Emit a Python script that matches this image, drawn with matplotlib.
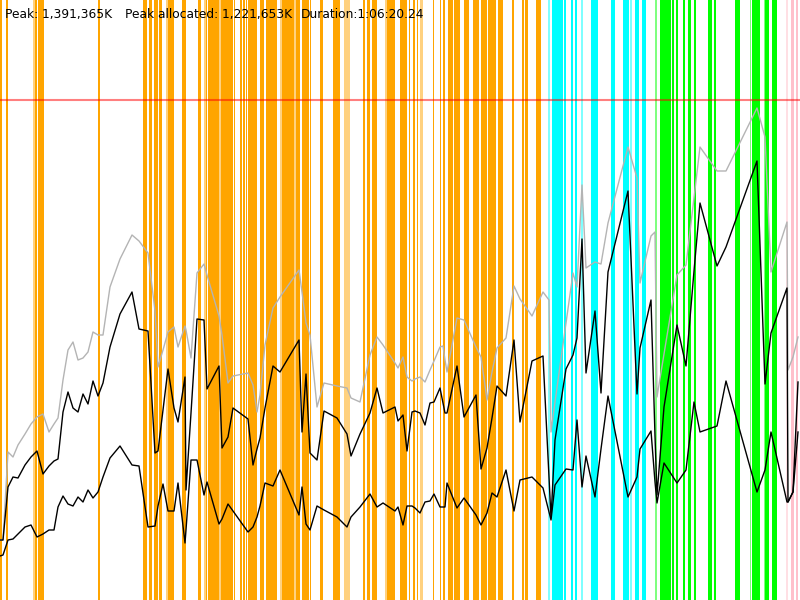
import numpy as np
import matplotlib.pyplot as plt

# sample times (chart x units) and the three memory traces (chart height units)
t = [0, 3, 8, 13, 18, 25, 31, 37, 43, 49, 54, 58, 63, 68, 73, 78, 83, 88, 93, 98,
     103, 110, 120, 132, 139, 148, 155, 158, 163, 168, 174, 178, 185, 186, 191, 197,
     204, 207, 219, 222, 228, 233, 248, 253, 257, 260, 265, 273, 280, 299, 302, 306,
     310, 317, 324, 337, 347, 351, 360, 370, 377, 383, 395, 398, 403, 407, 412, 415,
     420, 425, 430, 434, 440, 443, 445, 447, 457, 464, 476, 481, 487, 492, 497, 506,
     514, 520, 532, 543, 549, 551, 555, 566, 573, 577, 582, 586, 595, 601, 608, 628,
     637, 640, 651, 655, 657, 664, 677, 686, 694, 700, 717, 726, 757, 765, 771, 787,
     788, 793, 798]

peak_mem = [60, 60, 148, 143, 155, 166, 176, 183, 186, 168, 176, 182, 220, 250, 258, 240,
            242, 248, 268, 265, 265, 313, 341, 365, 359, 347, 289, 233, 250, 268, 273, 253,
            274, 270, 242, 327, 336, 325, 284, 265, 217, 224, 227, 215, 188, 205, 255, 292,
            303, 330, 308, 277, 265, 193, 217, 214, 212, 202, 198, 245, 263, 255, 237, 232,
            243, 223, 219, 221, 223, 218, 230, 239, 253, 254, 240, 228, 282, 280, 253, 243,
            200, 228, 252, 262, 314, 301, 284, 308, 300, 168, 198, 277, 327, 313, 415, 332,
            338, 336, 377, 453, 422, 317, 364, 368, 203, 246, 325, 335, 402, 453, 429, 429,
            492, 463, 328, 378, 230, 243, 263]

used_mem = [60, 60, 113, 123, 122, 135, 143, 149, 126, 134, 139, 141, 188, 208, 192, 188,
            206, 196, 219, 204, 217, 253, 286, 308, 271, 269, 147, 149, 190, 231, 192, 178,
            223, 110, 187, 281, 280, 211, 234, 152, 163, 192, 181, 135, 151, 162, 192, 234,
            228, 260, 168, 226, 147, 140, 189, 182, 166, 144, 166, 187, 212, 187, 193, 179,
            185, 149, 188, 189, 187, 175, 197, 198, 212, 197, 187, 187, 234, 183, 205, 131,
            152, 182, 214, 204, 260, 178, 239, 244, 123, 82, 160, 231, 245, 262, 361, 227,
            289, 207, 328, 409, 206, 252, 300, 164, 105, 193, 275, 234, 329, 397, 334, 353,
            439, 216, 267, 312, 98, 108, 218]

alloc_mem = [44, 45, 60, 61, 66, 73, 75, 63, 66, 70, 70, 93, 104, 96, 94, 103,
             98, 110, 102, 108, 123, 142, 154, 135, 134, 73, 74, 94, 116, 89, 89, 117,
             57, 70, 140, 140, 105, 118, 76, 81, 96, 89, 68, 73, 83, 94, 117, 114,
             130, 85, 113, 76, 70, 94, 90, 83, 73, 83, 93, 106, 93, 97, 89, 93,
             75, 94, 94, 92, 87, 98, 99, 106, 93, 93, 93, 117, 92, 102, 85, 75,
             87, 107, 103, 130, 89, 120, 123, 112, 88, 80, 115, 131, 130, 180, 113, 144,
             103, 151, 204, 103, 123, 151, 169, 118, 97, 137, 117, 130, 198, 168, 174, 219,
             108, 130, 168, 98, 98, 108, 168]

peak_level = 500

# phase spans (start, end) along the time axis
orange_spans = [(0, 2), (6, 7.7), (35, 37.3), (38, 44), (98, 99.5), (143.3, 147), (149, 152.3),
                (153.7, 157.7), (159, 162.3), (168.3, 174), (182, 185.7), (197.7, 201),
                (205.7, 207), (208, 219), (220.7, 233.3), (233.7, 235.3), (240, 242.3),
                (243, 245), (245.7, 247.3), (248.3, 257), (259.7, 263.7), (265.7, 277),
                (281.7, 294), (296, 300), (302, 309), (310.3, 311.3), (320, 323),
                (333, 337.7), (338.3, 339.7), (363, 365), (366.7, 369.7), (371.7, 377),
                (387.3, 395.3), (399.7, 406.7), (409, 410.3), (413.3, 415.3), (416.7, 418),
                (433, 434), (439.7, 440.7), (443.3, 445), (447.7, 452.7), (454.3, 460),
                (464, 469), (472.7, 479), (480.7, 486.7), (488.3, 495.7), (497.7, 502.7),
                (511.7, 513.7), (521.7, 523.7), (525, 528), (536.3, 540.7)]
orange_faint = [(33, 35), (166.3, 168), (204, 205.7), (219, 220.7), (280, 281.7),
                (294, 296), (343.7, 350), (385, 387.3), (419.7, 422.7)]
cyan_spans = [(552, 563.3), (564, 566), (571, 573), (575, 577), (591, 595.7), (596.3, 598),
              (611, 615), (623, 629), (635, 639.3), (641.7, 645.7)]
cyan_faint = [(548, 550), (581, 583), (630, 632)]
green_spans = [(659.7, 664), (664.3, 671), (671.7, 674.3), (675.7, 677.7), (683.3, 685),
               (688.3, 690.7), (693.7, 695.7), (707.7, 712), (713.7, 715.7), (734.7, 740.3),
               (751.7, 757.7), (758.3, 759.7), (765.3, 769), (771.7, 777)]
green_faint = [(655, 657), (749.7, 751.3), (764, 765.3)]
pink_spans = [(790.7, 794), (795.7, 798.3)]
pink_faint = [(785.7, 788)]

labels = ['Peak: 1,391,365K', 'Peak allocated: 1,221,653K', 'Duration:1:06:20.24']
label_x = [5, 125, 301]

fig = plt.figure(figsize=(8, 6), dpi=100)
ax = fig.add_axes([0, 0, 1, 1])
ax.set_xlim(0, 800)
ax.set_ylim(0, 600)
ax.axis('off')

for spans, faint, col in [(orange_spans, orange_faint, '#ffa500'),
                          (cyan_spans, cyan_faint, '#00ffff'),
                          (green_spans, green_faint, '#00ff00'),
                          (pink_spans, pink_faint, '#ffc0cb')]:
    for a, b in spans:
        ax.axvspan(a, b, color=col, lw=0)
    for a, b in faint:
        ax.axvspan(a, b, color=col, alpha=0.5, lw=0)

ax.plot(t, peak_mem, color='#b4b4b4', lw=1.0)
ax.plot(t, used_mem, color='black', lw=1.0)
ax.plot(t, alloc_mem, color='black', lw=1.0)

ax.axhline(peak_level, color='red', alpha=0.5, lw=1.5)

for x, s in zip(label_x, labels):
    ax.text(x, 582, s, fontsize=8.8, color='black', va='baseline', ha='left')

fig.savefig('out.png', dpi=100)
